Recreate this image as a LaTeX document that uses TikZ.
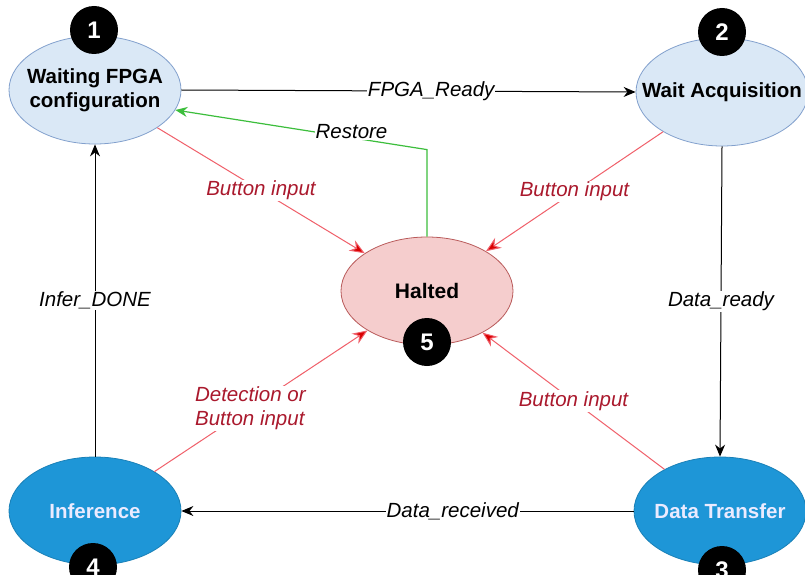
\documentclass[tikz,border=0pt]{standalone}
\usepackage{fontspec}
\setmainfont{Liberation Sans}
\usetikzlibrary{shapes.geometric,arrows.meta}
\definecolor{lightfill}{RGB}{218,232,246}
\definecolor{lightline}{RGB}{130,160,205}
\definecolor{pinkfill}{RGB}{245,205,205}
\definecolor{pinkline}{RGB}{185,90,90}
\definecolor{bluefill}{RGB}{30,150,215}
\definecolor{redline}{RGB}{240,95,105}
\definecolor{redtext}{RGB}{170,25,45}
\definecolor{greenline}{RGB}{60,190,60}
\tikzset{
  state/.style={ellipse, draw, line width=0.8pt, inner xsep=-40pt, inner ysep=-20pt,
    minimum width=172pt, minimum height=108pt,
    font=\fontsize{20.5}{24}\selectfont\bfseries, align=center},
  idle/.style={state, fill=lightfill, draw=lightline},
  busy/.style={state, fill=bluefill, draw=bluefill!85!black, text=white!92!blue},
  stop/.style={state, fill=pinkfill, draw=pinkline, font=\fontsize{21}{24}\selectfont\bfseries},
  badge/.style={circle, fill=black, text=white, minimum size=48pt, inner sep=0pt,
    font=\fontsize{24}{26}\selectfont\bfseries},
  flow/.style={draw=black, line width=1pt, -{Stealth[length=12pt,width=10pt]}},
  alarm/.style={draw=redline, line width=1pt, -{Stealth[length=15pt,width=12pt,fill=red!85!black]}},
  back/.style={draw=greenline, line width=1.2pt, -{Stealth[length=12pt,width=10pt]}},
  lbl/.style={fill=white, inner sep=1pt, font=\fontsize{20.5}{24}\selectfont\itshape},
  rlbl/.style={lbl, text=redtext},
}
\begin{document}
\begin{tikzpicture}[x=1pt,y=-1pt]
  \useasboundingbox (0,0) rectangle (805,575);
  \clip (0,0) rectangle (805,575);
  \fill[white] (0,0) rectangle (805,575);

  % states
  \node[idle] (fpga) at (95,90) {Waiting FPGA\\configuration};
  \node[idle] (wait) at (722,92) {Wait Acquisition};
  \node[busy] (dt)   at (720,511) {Data Transfer};
  \node[busy] (inf)  at (95,511) {Inference};
  \node[stop] (halt) at (427,291) {Halted};

  % transitions
  \draw[flow] (fpga.east) -- node[lbl, pos=0.55] {FPGA\_Ready} (wait.west);
  \draw[flow] (wait.south) -- node[lbl] {Data\_ready} (dt.north);
  \draw[flow] (dt.west) -- node[lbl, pos=0.4] {Data\_received} (inf.east);
  \draw[flow] (inf.north) -- node[lbl] {Infer\_DONE} (fpga.south);

  % halt on button / detection
  \draw[alarm] (fpga) -- node[rlbl] {Button input} (halt);
  \draw[alarm] (wait) -- node[rlbl] {Button input} (halt);
  \draw[alarm] (dt) -- node[rlbl] {Button input} (halt);
  \draw[alarm] (inf) -- node[rlbl, pos=0.45, align=left] {Detection or\\Button input} (halt);

  % restore path
  \draw[back] (halt.north) -- ++(0,-87) coordinate (bend)
    -- node[lbl, pos=0.3, above=-3pt] {Restore} (fpga.-14);

  % state numbers
  \node[badge] (b1) at (94,30) {1};
  \node[badge] (b2) at (722,32) {2};
  \node[badge] (b3) at (722,570) {3};
  \node[badge] (b4) at (93,567) {4};
  \node[badge] (b5) at (427,342) {5};
\end{tikzpicture}
\end{document}
